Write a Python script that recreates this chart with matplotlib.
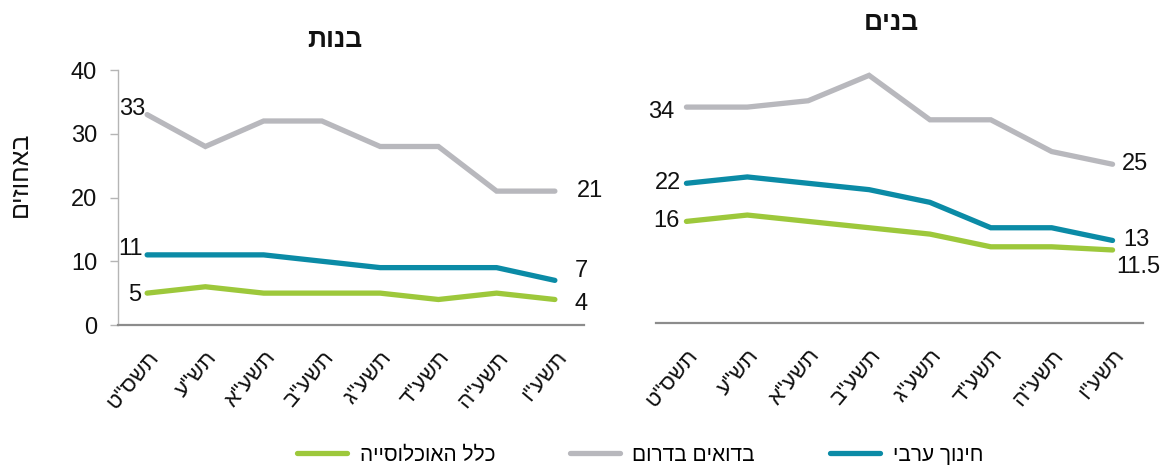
import matplotlib
matplotlib.use("Agg")
import matplotlib.pyplot as plt

plt.rcParams['font.family'] = ['Liberation Sans', 'DejaVu Sans']

def rtl(s):
    return s[::-1]

years = ['תשס"ט', 'תש"ע', 'תשע"א', 'תשע"ב', 'תשע"ג', 'תשע"ד', 'תשע"ה', 'תשע"ו']

series_names = ['כלל האוכלוסייה', 'בדואים בדרום', 'חינוך ערבי']
colors = ['#9DC83B', '#B8B8BD', '#0B8BA6']

# Girls (בנות)
girls_total = [5, 6, 5, 5, 5, 4, 5, 4]
girls_bedouin = [33, 28, 32, 32, 28, 28, 21, 21]
girls_arab = [11, 11, 11, 10, 9, 9, 9, 7]

# Boys (בנים)
boys_total = [16, 17, 16, 15, 14, 12, 12, 11.5]
boys_bedouin = [34, 34, 35, 39, 32, 32, 27, 25]
boys_arab = [22, 23, 22, 21, 19, 15, 15, 13]

W, H = 1164, 465
fig = plt.figure(figsize=(W / 100, H / 100), dpi=100)

axL = fig.add_axes([118 / W, 1 - 325 / H, 466 / W, 255 / H])
axR = fig.add_axes([656 / W, 1 - 323 / H, 487 / W, 254 / H])

x = list(range(len(years)))
lw = 3.8

def draw(ax, data):
    lines = []
    for vals, c in zip(data, colors):
        ln, = ax.plot(x, vals, color=c, lw=lw, solid_capstyle='round',
                      solid_joinstyle='miter')
        lines.append(ln)
    ax.set_xlim(-0.5, 7.5)
    ax.set_ylim(0, 40)
    ax.set_xticks(x)
    ax.set_xticklabels([rtl(y) for y in years], rotation=50, ha='right',
                       rotation_mode='anchor', fontsize=16, color='#111111')
    ax.tick_params(axis='x', length=0, pad=16)
    for s in ['top', 'right']:
        ax.spines[s].set_visible(False)
    ax.spines['bottom'].set_color('#8C8C8C')
    ax.spines['bottom'].set_linewidth(1.6)
    return lines

lines = draw(axL, [girls_total, girls_bedouin, girls_arab])
draw(axR, [boys_total, boys_bedouin, boys_arab])

axL.spines['left'].set_color('#B5B5B5')
axL.spines['left'].set_linewidth(1.0)
axL.set_yticks([0, 10, 20, 30, 40])
axL.tick_params(axis='y', length=6, width=1, color='#B5B5B5', labelsize=17,
                labelcolor='#111111', pad=9)

axR.spines['left'].set_visible(False)
axR.set_yticks([])

lab = dict(fontsize=17, color='#111111', textcoords='offset points', va='center')

def label(ax, i, v, text, dx, dy, ha):
    ax.annotate(text, (i, v), xytext=(dx, dy), ha=ha, **lab)

# Left panel labels
label(axL, 0, girls_bedouin[0], '33', -1, 4, 'right')
label(axL, 0, girls_arab[0], '11', -3, 4, 'right')
label(axL, 0, girls_total[0], '5', -4, -1, 'right')
label(axL, 7, girls_bedouin[7], '21', 16, 0, 'left')
label(axL, 7, girls_arab[7], '7', 14, 7, 'left')
label(axL, 7, girls_total[7], '4', 14, -3, 'left')

# Right panel labels
label(axR, 0, boys_bedouin[0], '34', -9, -3.5, 'right')
label(axR, 0, boys_arab[0], '22', -4, 0, 'right')
label(axR, 0, boys_total[0], '16', -5, 0, 'right')
label(axR, 7, boys_bedouin[7], '25', 6.5, 0, 'left')
label(axR, 7, boys_arab[7], '13', 8, 0, 'left')
label(axR, 7, boys_total[7], '11.5', 3, -12.5, 'left')

fig.text(335 / W, 1 - 40 / H, rtl('בנות'), ha='center', va='center',
         fontsize=19, fontweight='bold', color='#111111')
fig.text(891 / W, 1 - 23 / H, rtl('בנים'), ha='center', va='center',
         fontsize=19, fontweight='bold', color='#111111')
fig.text(20 / W, 1 - 174 / H, rtl('באחוזים'), ha='center', va='center',
         rotation=90, fontsize=18, color='#111111')

fig.legend(lines, [rtl(n) for n in series_names], loc='center',
           bbox_to_anchor=(640 / W, 1 - 455 / H), ncol=3, frameon=False,
           fontsize=15, handlelength=2.4, handletextpad=0.6,
           columnspacing=3.6, borderpad=0)

fig.savefig('out.png', dpi=100)
